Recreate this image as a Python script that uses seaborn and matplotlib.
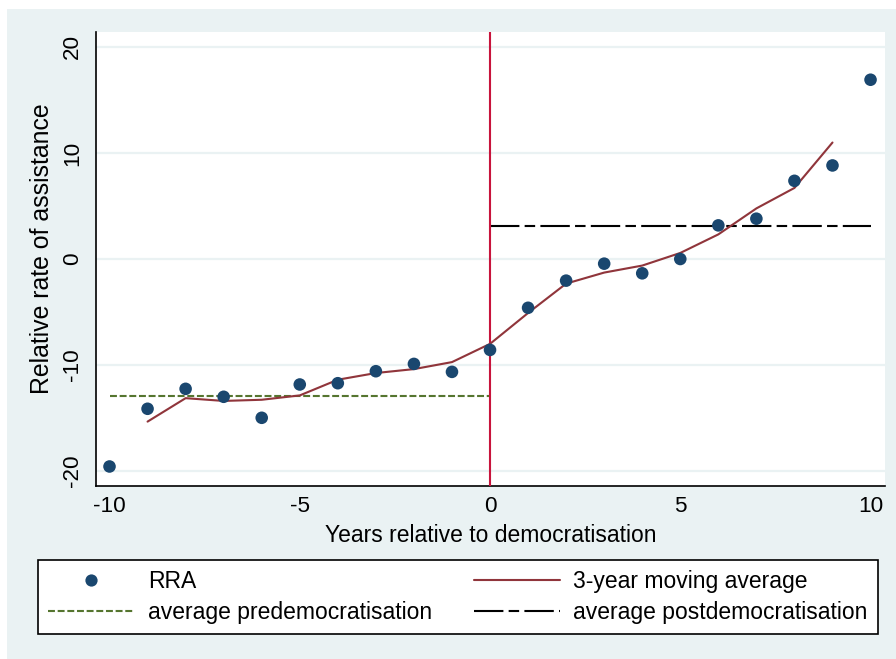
import matplotlib
matplotlib.use("Agg")
import matplotlib.pyplot as plt
from matplotlib.patches import Rectangle
from matplotlib.lines import Line2D
import seaborn as sns
import pandas as pd

# ---- data ----
years = [-10, -9, -8, -7, -6, -5, -4, -3, -2, -1, 0, 1, 2, 3, 4, 5, 6, 7, 8, 9, 10]
rra = [-19.56, -14.12, -12.24, -12.99, -14.97, -11.83, -11.71, -10.58, -9.89, -10.64,
       -8.57, -4.60, -2.04, -0.44, -1.35, 0.00, 3.17, 3.80, 7.37, 8.82, 16.90]
ma_years = [-9, -8, -7, -6, -5, -4, -3, -2, -1, 0, 1, 2, 3, 4, 5, 6, 7, 8, 9]
ma_vals = [-15.33, -13.12, -13.38, -13.27, -12.86, -11.38, -10.75, -10.38, -9.72,
           -8.0, -5.09, -2.32, -1.28, -0.62, 0.57, 2.32, 4.77, 6.70, 10.98]
pre_years = [-10, 0]
pre_avg = [-12.9, -12.9]
post_years = [0, 10]
post_avg = [3.15, 3.15]
xticks = [-10, -5, 0, 5, 10]
yticks = [-20, -10, 0, 10, 20]

df = pd.DataFrame({"year": years, "rra": rra})
df_ma = pd.DataFrame({"year": ma_years, "ma": ma_vals})
df_pre = pd.DataFrame({"year": pre_years, "v": pre_avg})
df_post = pd.DataFrame({"year": post_years, "v": post_avg})

sns.set_theme(style="white")
plt.rcParams["font.family"] = ["Liberation Sans", "DejaVu Sans"]
plt.rcParams["text.color"] = "black"
plt.rcParams["axes.labelcolor"] = "black"
plt.rcParams["xtick.color"] = "black"
plt.rcParams["ytick.color"] = "black"

BG = "#eaf2f3"
NAVY = "#1a476f"
MAROON = "#90353b"
GREEN = "#55752f"
RED = "#c8143c"

W, H = 896, 659
fig = plt.figure(figsize=(W / 100, H / 100), dpi=100)
fig.patch.set_facecolor("white")
fig.patches.append(Rectangle((7 / W, 0), 1 - 7 / W, 1 - 9 / H, transform=fig.transFigure,
                             facecolor=BG, edgecolor="none", zorder=-10))

ax = fig.add_axes([96 / W, 1 - 486 / H, (885 - 96) / W, (486 - 32) / H])
ax.set_zorder(1)
ax.set_facecolor("white")

for yv in yticks:
    ax.axhline(yv, color=BG, lw=1.6, zorder=0)

lw = 2.1 * 72 / 100  # ~2px
sns.lineplot(data=df_pre, x="year", y="v", ax=ax, color=GREEN, lw=lw,
             linestyle=(0, (3.3, 1.3)), zorder=2)
sns.lineplot(data=df_post, x="year", y="v", ax=ax, color="black", lw=lw,
             linestyle=(0, (14, 2.5, 5, 2.5)), zorder=2)
ax.axvline(0, color=RED, lw=lw, zorder=3)
sns.lineplot(data=df_ma, x="year", y="ma", ax=ax, color=MAROON, lw=lw, zorder=4)
sns.scatterplot(data=df, x="year", y="rra", ax=ax, color=NAVY, s=82,
                edgecolor="none", zorder=5)

ax.set_xlim(-10.355, 10.38)
ax.set_ylim(-21.4, 21.4)
ax.set_xticks(xticks)
ax.set_yticks(yticks)
ax.set_xticklabels([str(t) for t in xticks], fontsize=16.2)
ax.set_yticklabels([str(t) for t in yticks], fontsize=16.2, rotation=90, va="center")
ax.tick_params(axis="y", direction="out", length=7.2, width=1.2, color="black",
               labelcolor="black", pad=2.0)
ax.tick_params(axis="x", direction="out", length=5, width=1.2, color="black",
               labelcolor="black", pad=2)

for s in ["top", "right"]:
    ax.spines[s].set_visible(False)
for s in ["left", "bottom"]:
    ax.spines[s].set_color("black")
    ax.spines[s].set_linewidth(1.2)

ax.set_xlabel("Years relative to democratisation", fontsize=16.5, color="black")
ax.set_ylabel("Relative rate of assistance", fontsize=17.9, color="black")
ax.xaxis.set_label_coords(0.5, -(536 - 486) / (486 - 32), transform=ax.transAxes)
ax.xaxis.label.set_va("center")
ax.yaxis.set_label_coords(-(96 - 42) / (885 - 96), (486 - 249) / (486 - 32))
ax.yaxis.label.set_va("center")

handles = [
    Line2D([], [], marker="o", ls="none", color=NAVY, markersize=8.8, markeredgewidth=0),
    Line2D([], [], color=GREEN, lw=lw, ls=(0, (3.3, 1.3))),
    Line2D([], [], color=MAROON, lw=lw),
    Line2D([], [], color="black", lw=lw, ls=(0, (14, 2.5, 5, 2.5))),
]
labels = ["RRA", "average predemocratisation", "3-year moving average",
          "average postdemocratisation"]
leg = fig.legend(handles, labels, ncol=2, loc="upper left",
                 bbox_to_anchor=(38 / W, 1 - 634 / H, 840 / W, 74 / H), mode="expand",
                 borderaxespad=0, frameon=True, fancybox=False, edgecolor="black",
                 facecolor="white", framealpha=1, fontsize=16.5, handlelength=3.75,
                 handletextpad=0.6, labelspacing=0.33, borderpad=0.45)
leg.get_frame().set_linewidth(1.2)
for t in leg.get_texts():
    t.set_color("black")

fig.savefig("out.png", dpi=100, facecolor=fig.get_facecolor())
